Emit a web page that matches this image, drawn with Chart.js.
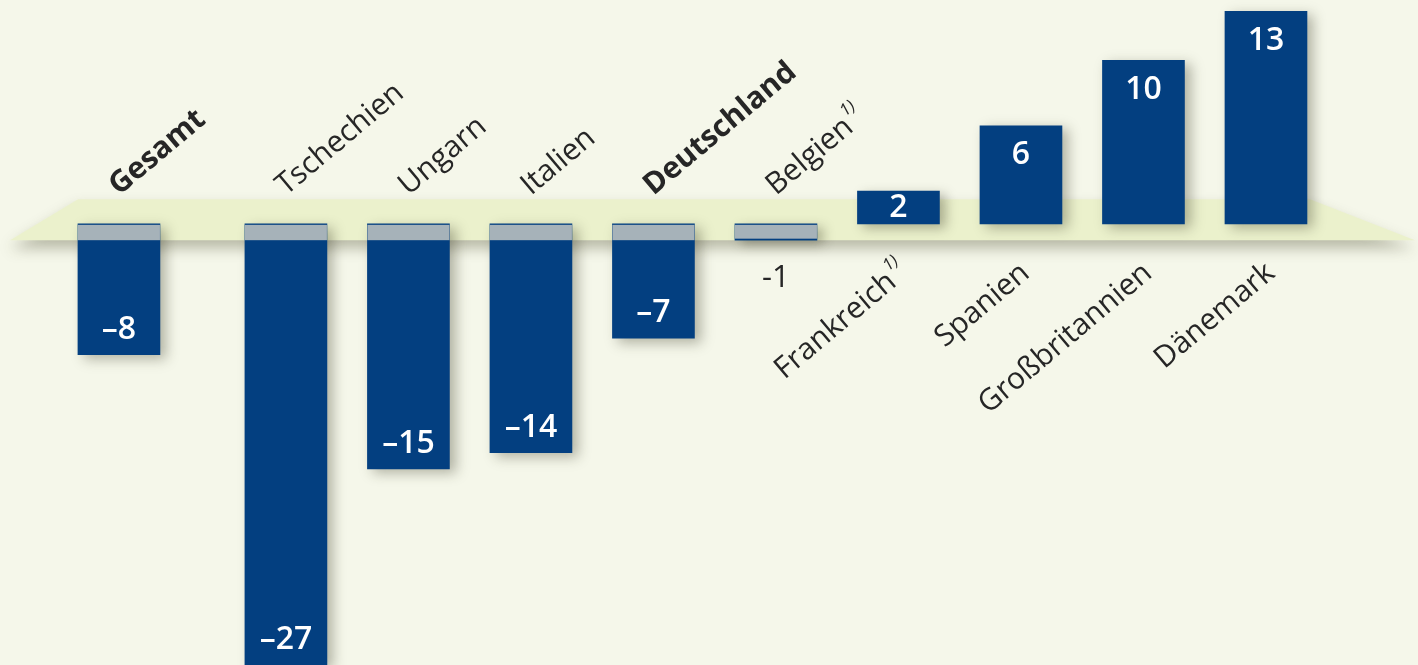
<!DOCTYPE html>
<html lang="de">
<head>
    <meta charset="UTF-8">
    <title>Veränderung nach Ländern</title>
    <script src="https://cdn.jsdelivr.net/npm/chart.js"></script>
    <style>
        html, body {
            margin: 0;
            padding: 0;
            background-color: #f5f7ea;
        }

        #wrap {
            width: 1418px;
            height: 665px;
        }
    </style>
</head>
<body>
    <div id="wrap"><canvas id="chart"></canvas></div>

    <script>
        // Daten
        const categories = ['Gesamt', 'Tschechien', 'Ungarn', 'Italien', 'Deutschland', 'Belgien', 'Frankreich', 'Spanien', 'Großbritannien', 'Dänemark'];
        const values = [-8, -27, -15, -14, -7, -1, 2, 6, 10, 13];
        const footnotes = ['', '', '', '', '', '1)', '1)', '', '', ''];
        const boldCategories = ['Gesamt', 'Deutschland'];

        const blue = '#033f80';
        const grey = '#a6b2b9';
        const planeColor = '#ebf1cc';
        const textColor = '#262626';
        const fontFamily = '"Open Sans", "Noto Sans", sans-serif';
        const labelSize = 30;

        // Gesamt steht etwas abgesetzt von den Ländern
        function slot(i) {
            return i === 0 ? 0 : i + 0.363;
        }

        const points = values.map((v, i) => ({ x: slot(i), y: v }));

        function fmt(v) {
            return v < 0 ? '\u2013' + Math.abs(v) : String(v);
        }

        const planePlugin = {
            id: 'plane',
            beforeDatasetsDraw(chart) {
                const { ctx, scales: { y } } = chart;
                const back = y.getPixelForValue(1.5);
                const front = y.getPixelForValue(-1);
                ctx.save();
                ctx.shadowColor = 'rgba(70, 70, 40, 0.35)';
                ctx.shadowBlur = 14;
                ctx.shadowOffsetY = 8;
                ctx.fillStyle = planeColor;
                ctx.beginPath();
                ctx.moveTo(78, back);
                ctx.lineTo(1310, back);
                ctx.lineTo(1415, front);
                ctx.lineTo(10, front);
                ctx.closePath();
                ctx.fill();
                ctx.restore();
            },
            beforeDatasetDraw(chart) {
                const ctx = chart.ctx;
                ctx.save();
                ctx.shadowColor = 'rgba(50, 50, 30, 0.35)';
                ctx.shadowBlur = 12;
                ctx.shadowOffsetX = 6;
                ctx.shadowOffsetY = 4;
            },
            afterDatasetDraw(chart) {
                chart.ctx.restore();
            },
            afterDatasetsDraw(chart) {
                const { ctx, scales: { y } } = chart;
                const zero = y.getPixelForValue(0);
                const front = y.getPixelForValue(-1);
                const bars = chart.getDatasetMeta(0).data;

                // Teil der negativen Balken hinter der Ebene
                ctx.save();
                ctx.fillStyle = grey;
                bars.forEach((el, i) => {
                    if (values[i] >= 0) return;
                    const left = el.x - el.width / 2;
                    const bottom = Math.min(front, el.y - 1.5);
                    ctx.fillRect(left, zero + 1, el.width, bottom - zero - 1);
                });
                ctx.restore();

                // Werte
                ctx.save();
                ctx.textAlign = 'center';
                ctx.textBaseline = 'middle';
                bars.forEach((el, i) => {
                    const v = values[i];
                    if (Math.abs(v) < 2) {
                        ctx.fillStyle = textColor;
                        ctx.font = '400 31px ' + fontFamily;
                        ctx.fillText(fmt(v).replace('\u2013', '-'), el.x, front + 38);
                        return;
                    }
                    ctx.fillStyle = '#ffffff';
                    ctx.font = '600 32px ' + fontFamily;
                    let ty;
                    if (Math.abs(v) < 3) ty = (el.y + el.base) / 2;
                    else if (v < 0) ty = el.y - 25;
                    else ty = el.y + 29;
                    ctx.fillText(fmt(v), el.x, ty);
                });
                ctx.restore();

                // Kategorien, schräg gestellt
                const angle = -40 * Math.PI / 180;
                const noteFont = 'italic 400 17px ' + fontFamily;
                bars.forEach((el, i) => {
                    const name = categories[i];
                    const note = footnotes[i];
                    const mainFont = (boldCategories.includes(name) ? '700 ' : '400 ') + labelSize + 'px ' + fontFamily;
                    ctx.save();
                    ctx.fillStyle = textColor;
                    ctx.textBaseline = 'alphabetic';
                    ctx.textAlign = 'left';
                    ctx.font = mainFont;
                    const w = ctx.measureText(name).width;
                    ctx.font = noteFont;
                    const nw = note ? ctx.measureText(note).width : 0;
                    if (values[i] < 0) {
                        ctx.translate(el.x, 196);
                        ctx.rotate(angle);
                        ctx.font = mainFont;
                        ctx.fillText(name, 0, 0);
                        if (note) {
                            ctx.font = noteFont;
                            ctx.fillText(note, w + 1, -16);
                        }
                    } else {
                        ctx.translate(el.x + 11, 275);
                        ctx.rotate(angle);
                        ctx.font = mainFont;
                        ctx.fillText(name, -w - nw - 1, 0);
                        if (note) {
                            ctx.font = noteFont;
                            ctx.fillText(note, -nw, -16);
                        }
                    }
                    ctx.restore();
                });
            }
        };

        const ctx = document.getElementById('chart').getContext('2d');

        new Chart(ctx, {
            type: 'bar',
            data: {
                datasets: [{
                    data: points,
                    backgroundColor: blue,
                    borderWidth: 0,
                    barThickness: 82
                }]
            },
            options: {
                responsive: true,
                maintainAspectRatio: false,
                animation: false,
                layout: { padding: 0 },
                plugins: {
                    legend: { display: false },
                    tooltip: { enabled: false }
                },
                scales: {
                    x: {
                        type: 'linear',
                        display: false,
                        min: -0.971,
                        max: 10.604,
                        offset: false
                    },
                    y: {
                        display: false,
                        min: -27,
                        max: 13.7
                    }
                }
            },
            plugins: [planePlugin]
        });
    </script>
</body>
</html>
